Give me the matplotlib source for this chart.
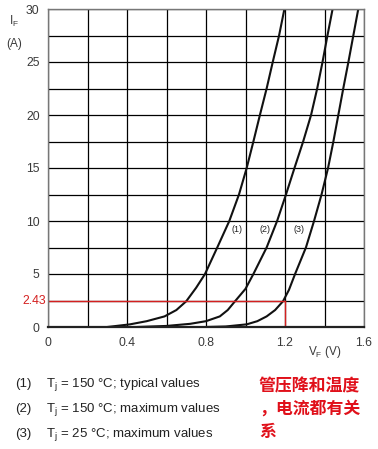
import matplotlib
matplotlib.use("Agg")
import matplotlib.pyplot as plt
from matplotlib.ticker import MultipleLocator

plt.rcParams['font.family'] = ['Liberation Sans', 'DejaVu Sans']
plt.rcParams['mathtext.fontset'] = 'custom'
plt.rcParams['mathtext.rm'] = 'Liberation Sans'
plt.rcParams['mathtext.it'] = 'Liberation Sans'

# Curve (1): Tj = 150 C typical
v1 = [0.30, 0.415, 0.50, 0.59, 0.65, 0.70, 0.75, 0.795, 0.857, 0.918, 0.967, 1.006, 1.04, 1.073, 1.107, 1.138, 1.17, 1.197]
i1 = [0.0, 0.25, 0.55, 1.0, 1.6, 2.43, 3.7, 5.0, 7.5, 10.0, 12.5, 15.0, 17.5, 20.0, 22.5, 25.0, 27.5, 30.0]
# Curve (2): Tj = 150 C maximum
v2 = [0.45, 0.60, 0.72, 0.80, 0.87, 0.91, 0.947, 1.00, 1.04, 1.107, 1.16, 1.205, 1.248, 1.292, 1.332, 1.363, 1.39, 1.415, 1.441]
i2 = [0.0, 0.1, 0.3, 0.55, 1.0, 1.6, 2.43, 3.6, 5.0, 7.5, 10.0, 12.5, 15.0, 17.5, 20.0, 22.5, 25.0, 27.5, 30.0]
# Curve (3): Tj = 25 C maximum
v3 = [0.80, 0.90, 1.006, 1.06, 1.107, 1.15, 1.19, 1.22, 1.251, 1.306, 1.347, 1.385, 1.418, 1.445, 1.47, 1.495, 1.521, 1.546, 1.571]
i3 = [0.0, 0.05, 0.25, 0.55, 1.0, 1.6, 2.43, 3.5, 5.0, 7.5, 10.0, 12.5, 15.0, 17.5, 20.0, 22.5, 25.0, 27.5, 30.0]

x_ticks = [0, 0.4, 0.8, 1.2, 1.6]
x_tick_labels = ['0', '0.4', '0.8', '1.2', '1.6']
y_ticks = [0, 5, 10, 15, 20, 25, 30]
mark_v = 1.2
mark_i = 2.43

curve_labels = ['(1)', '(2)', '(3)']
curve_label_x = [0.955, 1.10, 1.27]
curve_label_y = 9.2

legend_lines = ['(1)', '(2)', '(3)']
legend_texts = ['T$_\\mathrm{j}$ = 150 °C; typical values',
                'T$_\\mathrm{j}$ = 150 °C; maximum values',
                'T$_\\mathrm{j}$ = 25 °C; maximum values']
note_lines = ['管压降和温度', '，电流都有关', '系']

W, H = 378, 449
fig = plt.figure(figsize=(W / 100, H / 100), dpi=100)
ax = fig.add_axes([48 / W, 1 - 327 / H, 316 / W, 318 / H])

ax.set_xlim(0, 1.6)
ax.set_ylim(0, 30)
ax.xaxis.set_minor_locator(MultipleLocator(0.2))
ax.yaxis.set_minor_locator(MultipleLocator(2.5))
ax.set_xticks(x_ticks)
ax.set_xticklabels(x_tick_labels)
ax.set_yticks(y_ticks)
ax.grid(which='both', color='black', lw=0.9)
ax.set_axisbelow(True)
ax.tick_params(which='both', length=0, labelsize=8.8, labelcolor='#3a3a3a')
ax.tick_params(axis='x', pad=7)
ax.tick_params(axis='y', pad=6)
for s in ax.spines.values():
    s.set_color('#777777')
    s.set_linewidth(1.0)
ax.spines['bottom'].set_color('#222222')
ax.spines['bottom'].set_linewidth(1.6)

for v, i in [(v1, i1), (v2, i2), (v3, i3)]:
    ax.plot(v, i, color='#111111', lw=1.5, solid_capstyle='round',
            solid_joinstyle='round', clip_on=True)

ax.plot([0, mark_v], [mark_i, mark_i], color='#d42020', lw=1.0)
ax.plot([mark_v, mark_v], [0, mark_i], color='#d42020', lw=1.0)
ax.text(-0.012, mark_i, f'{mark_i}', color='#d42020', fontsize=8.8, ha='right', va='center')

for lbl, x in zip(curve_labels, curve_label_x):
    ax.text(x, curve_label_y, lbl, fontsize=6.5, ha='center', va='center', color='#222222',
            bbox=dict(facecolor='white', edgecolor='none', pad=0.3))

fig.text(14 / W, 1 - 21 / H, 'I$_\\mathrm{F}$', fontsize=8.5, ha='center', va='center', color='#3a3a3a')
fig.text(14 / W, 1 - 44 / H, '(A)', fontsize=8.5, ha='center', va='center', color='#3a3a3a')
fig.text(325 / W, 1 - 352 / H, 'V$_\\mathrm{F}$ (V)', fontsize=8.5, ha='center', va='center', color='#3a3a3a')

ys = [384, 409, 434]
for lab, txt, y in zip(legend_lines, legend_texts, ys):
    fig.text(15 / W, 1 - y / H, lab, fontsize=9.5, ha='left', va='center', color='#222222')
    fig.text(46 / W, 1 - y / H, txt, fontsize=9.5, ha='left', va='center', color='#222222')

for txt, y in zip(note_lines, [386, 409, 432]):
    fig.text(259 / W, 1 - y / H, txt, fontsize=12.2, ha='left', va='center', color='#e0101a',
             fontweight='bold', family=['Noto Sans CJK SC', 'DejaVu Sans'])

fig.savefig('out.png', dpi=100, facecolor='white')
